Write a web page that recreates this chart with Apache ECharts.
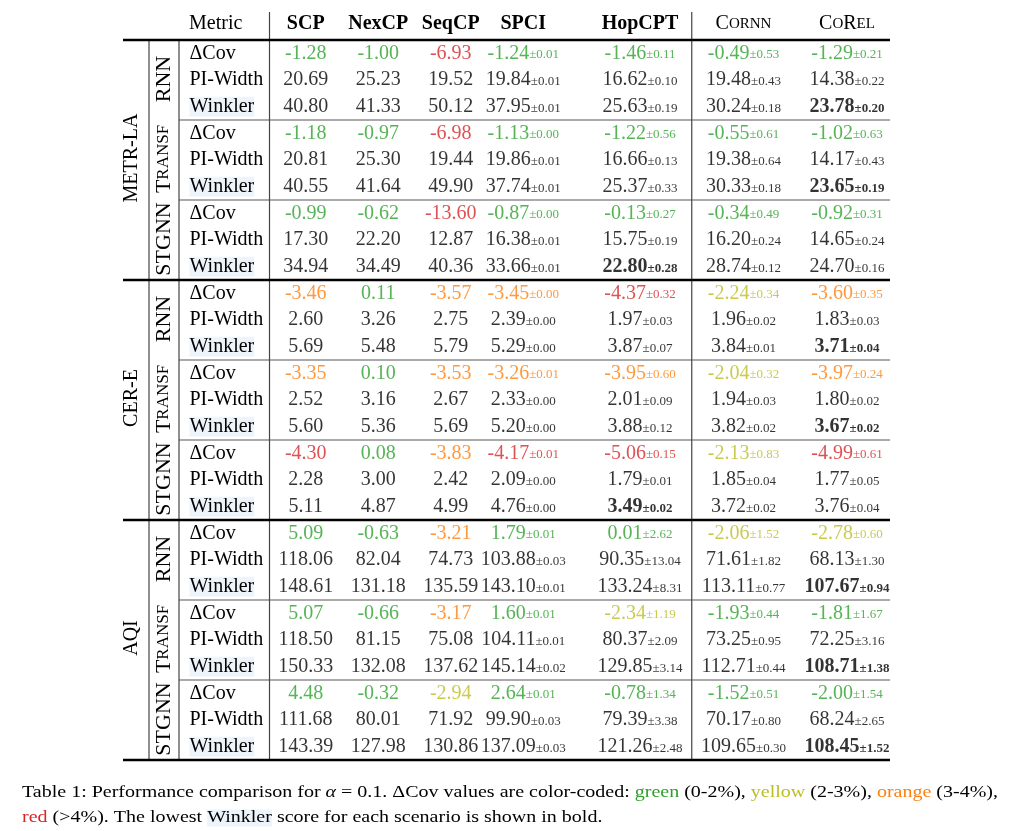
<!DOCTYPE html>
<html>
<head>
<meta charset="utf-8">
<script src="https://cdn.jsdelivr.net/npm/echarts@6/dist/echarts.min.js"></script>
<style>
html, body { margin: 0; padding: 0; background: #fff; }
#main { width: 1027px; height: 831px; }
</style>
</head>
<body>
<div id="main"></div>
<script>
// table content, rows ordered dataset -> model -> metric
var datasets = ['METR-LA', 'CER-E', 'AQI'];
var models = ['RNN', 'TRANSF', 'STGNN'];
var metrics = ['ΔCov', 'PI-Width', 'Winkler'];
var methods = ['SCP', 'NexCP', 'SeqCP', 'SPCI', 'HopCPT', 'CoRNN', 'CoREL'];

var scp = [-1.28, 20.69, 40.80, -1.18, 20.81, 40.55, -0.99, 17.30, 34.94,
           -3.46, 2.60, 5.69, -3.35, 2.52, 5.60, -4.30, 2.28, 5.11,
           5.09, 118.06, 148.61, 5.07, 118.50, 150.33, 4.48, 111.68, 143.39];
var nexcp = [-1.00, 25.23, 41.33, -0.97, 25.30, 41.64, -0.62, 22.20, 34.49,
             0.11, 3.26, 5.48, 0.10, 3.16, 5.36, 0.08, 3.00, 4.87,
             -0.63, 82.04, 131.18, -0.66, 81.15, 132.08, -0.32, 80.01, 127.98];
var seqcp = [-6.93, 19.52, 50.12, -6.98, 19.44, 49.90, -13.60, 12.87, 40.36,
             -3.57, 2.75, 5.79, -3.53, 2.67, 5.69, -3.83, 2.42, 4.99,
             -3.21, 74.73, 135.59, -3.17, 75.08, 137.62, -2.94, 71.92, 130.86];
var spci = [-1.24, 19.84, 37.95, -1.13, 19.86, 37.74, -0.87, 16.38, 33.66,
            -3.45, 2.39, 5.29, -3.26, 2.33, 5.20, -4.17, 2.09, 4.76,
            1.79, 103.88, 143.10, 1.60, 104.11, 145.14, 2.64, 99.90, 137.09];
var spciStd = [0.01, 0.01, 0.01, 0.00, 0.01, 0.01, 0.00, 0.01, 0.01,
               0.00, 0.00, 0.00, 0.01, 0.00, 0.00, 0.01, 0.00, 0.00,
               0.01, 0.03, 0.01, 0.01, 0.01, 0.02, 0.01, 0.03, 0.03];
var hopcpt = [-1.46, 16.62, 25.63, -1.22, 16.66, 25.37, -0.13, 15.75, 22.80,
              -4.37, 1.97, 3.87, -3.95, 2.01, 3.88, -5.06, 1.79, 3.49,
              0.01, 90.35, 133.24, -2.34, 80.37, 129.85, -0.78, 79.39, 121.26];
var hopcptStd = [0.11, 0.10, 0.19, 0.56, 0.13, 0.33, 0.27, 0.19, 0.28,
                 0.32, 0.03, 0.07, 0.60, 0.09, 0.12, 0.15, 0.01, 0.02,
                 2.62, 13.04, 8.31, 1.19, 2.09, 3.14, 1.34, 3.38, 2.48];
var cornn = [-0.49, 19.48, 30.24, -0.55, 19.38, 30.33, -0.34, 16.20, 28.74,
             -2.24, 1.96, 3.84, -2.04, 1.94, 3.82, -2.13, 1.85, 3.72,
             -2.06, 71.61, 113.11, -1.93, 73.25, 112.71, -1.52, 70.17, 109.65];
var cornnStd = [0.53, 0.43, 0.18, 0.61, 0.64, 0.18, 0.49, 0.24, 0.12,
                0.34, 0.02, 0.01, 0.32, 0.03, 0.02, 0.83, 0.04, 0.02,
                1.52, 1.82, 0.77, 0.44, 0.95, 0.44, 0.51, 0.80, 0.30];
var corel = [-1.29, 14.38, 23.78, -1.02, 14.17, 23.65, -0.92, 14.65, 24.70,
             -3.60, 1.83, 3.71, -3.97, 1.80, 3.67, -4.99, 1.77, 3.76,
             -2.78, 68.13, 107.67, -1.81, 72.25, 108.71, -2.00, 68.24, 108.45];
var corelStd = [0.21, 0.22, 0.20, 0.63, 0.43, 0.19, 0.31, 0.24, 0.16,
                0.35, 0.03, 0.04, 0.24, 0.02, 0.02, 0.61, 0.05, 0.04,
                0.60, 1.30, 0.94, 1.67, 3.16, 1.38, 1.54, 2.65, 1.52];

var vals = [scp, nexcp, seqcp, spci, hopcpt, cornn, corel];
var stds = [null, null, null, spciStd, hopcptStd, cornnStd, corelStd];

var FONT = 'Liberation Serif';
var COLORS = { g: '#2ca02c', y: '#bcbd22', o: '#ff7f0e', r: '#d62728', k: '#000000' };

// colour bands from the caption
function covKey(v) {
    if (v >= -2) return 'g';
    if (v >= -3) return 'y';
    if (v >= -4) return 'o';
    return 'r';
}

// lowest Winkler per scenario -> bold
var best = {};
for (var r = 2; r < 27; r += 3) {
    var lo = Infinity, bi = -1;
    for (var i = 0; i < vals.length; i++) {
        if (vals[i][r] < lo) { lo = vals[i][r]; bi = i; }
    }
    best[r] = bi;
}

var rich = {};
Object.keys(COLORS).forEach(function (k) {
    [0, 1].forEach(function (b) {
        rich[k + b + 'm'] = {
            fontFamily: FONT, fontSize: 20, fontWeight: b ? 'bold' : 'normal',
            color: COLORS[k], verticalAlign: 'bottom'
        };
        rich[k + b + 's'] = {
            fontFamily: FONT, fontSize: 13, fontWeight: b ? 'bold' : 'normal',
            color: COLORS[k], verticalAlign: 'bottom', padding: [0, 0, 2, 0]
        };
    });
});

var rowIds = [];
for (var j = 0; j < 27; j++) rowIds.push(String(j));

function makeSeries(ci, gi) {
    var data = vals[ci].map(function (v, r) {
        var k = (r % 3 === 0) ? covKey(v) : 'k';
        var b = (r % 3 === 2 && best[r] === ci) ? 1 : 0;
        var txt = '{' + k + b + 'm|' + v.toFixed(2) + '}';
        if (stds[ci]) txt += '{' + k + b + 's|±' + stds[ci][r].toFixed(2) + '}';
        return { value: [methods[ci], r], txt: txt };
    });
    return {
        type: 'scatter',
        name: methods[ci],
        xAxisIndex: gi,
        yAxisIndex: gi,
        symbolSize: 1,
        silent: true,
        itemStyle: { color: 'rgba(0,0,0,0)' },
        label: {
            show: true,
            position: 'inside',
            formatter: function (p) { return p.data.txt; },
            rich: rich
        },
        data: data
    };
}

var headRich = {
    b: { fontFamily: FONT, fontSize: 20, fontWeight: 'bold', color: '#000' },
    c: { fontFamily: FONT, fontSize: 20, color: '#000' },
    sc: { fontFamily: FONT, fontSize: 15, color: '#000' }
};
function headFmt(v) {
    if (v === 'CoRNN') return '{c|C}{sc|ORNN}';
    if (v === 'CoREL') return '{c|C}{sc|O}{c|R}{sc|EL}';
    return '{b|' + v + '}';
}

var chart = echarts.init(document.getElementById('main'));

var yAxisBase = {
    type: 'category',
    data: rowIds,
    inverse: true,
    axisLine: { show: false },
    axisTick: { show: false },
    splitLine: { show: false }
};

chart.setOption({
    animation: false,
    backgroundColor: '#fff',
    grid: [
        { left: 269.5, top: 40, width: 290, height: 720 },
        { left: 588.25, top: 40, width: 310.5, height: 720 }
    ],
    xAxis: [0, 1].map(function (gi) {
        return {
            type: 'category',
            gridIndex: gi,
            position: 'top',
            data: gi === 0 ? methods.slice(0, 4) : methods.slice(4),
            axisLine: { show: false },
            axisTick: { show: false },
            axisLabel: { margin: 6, interval: 0, formatter: headFmt, rich: headRich }
        };
    }),
    yAxis: [
        Object.assign({}, yAxisBase, {
            gridIndex: 0,
            axisLabel: {
                align: 'left',
                margin: 80,
                interval: 0,
                formatter: function (v, i) {
                    var m = metrics[i % 3];
                    return (i % 3 === 2 ? '{w|' : '{n|') + m + '}';
                },
                rich: {
                    n: { fontFamily: FONT, fontSize: 20, color: '#000' },
                    w: { fontFamily: FONT, fontSize: 20, color: '#000', backgroundColor: '#edf4fc' }
                }
            }
        }),
        Object.assign({}, yAxisBase, { gridIndex: 1, axisLabel: { show: false } })
    ],
    series: vals.map(function (a, ci) { return makeSeries(ci, ci < 4 ? 0 : 1); })
});

// rules, group labels and caption, placed from the axes
var y0 = chart.convertToPixel({ yAxisIndex: 0 }, 0);
var rowH = chart.convertToPixel({ yAxisIndex: 0 }, 1) - y0;
function yB(r) { return y0 - rowH / 2 + r * rowH; }
function yC(r) { return y0 + r * rowH; }
var xHop = chart.convertToPixel({ xAxisIndex: 1 }, 'HopCPT');
var xRn = chart.convertToPixel({ xAxisIndex: 1 }, 'CoRNN');
var xMid = (xHop + xRn) / 2;
var xL = 123, xR = 890, xDs = 149, xMd = 179, xMet = 269.5;

var g = [];
function line(x1, y1, x2, y2, w, c) {
    g.push({ type: 'line', silent: true, shape: { x1: x1, y1: y1, x2: x2, y2: y2 },
             style: { stroke: c, lineWidth: w } });
}
[3, 6, 12, 15, 21, 24].forEach(function (r) { line(xMd, yB(r), xR, yB(r), 1, '#555'); });
line(xDs, yB(0), xDs, yB(27), 1.2, '#444');
line(xMd, yB(0), xMd, yB(27), 1.2, '#444');
line(xMet, 12, xMet, yB(27), 1.2, '#444');
line(xMid, 12, xMid, yB(27), 1.2, '#444');
[0, 9, 18, 27].forEach(function (r) { line(xL, yB(r), xR, yB(r), 2.6, '#000'); });

g.push({ type: 'text', x: 189, y: 24, silent: true,
         style: { text: 'Metric', font: '20px "Liberation Serif"', fill: '#000',
                  align: 'left', verticalAlign: 'middle' } });

var modelRich = {
    a: { fontFamily: FONT, fontSize: 22, fill: '#000' },
    s: { fontFamily: FONT, fontSize: 17, fill: '#000' }
};
datasets.forEach(function (d, di) {
    g.push({ type: 'text', x: 132, y: yC(di * 9 + 4) - 2, rotation: Math.PI / 2, silent: true,
             style: { text: d, font: '20px "Liberation Serif"', fill: '#000',
                      align: 'center', verticalAlign: 'middle' } });
    models.forEach(function (m, mi) {
        var t = m === 'TRANSF' ? '{a|T}{s|RANSF}' : '{a|' + m + '}';
        g.push({ type: 'text', x: 164, y: yC(di * 9 + mi * 3 + 1) - 1, rotation: Math.PI / 2, silent: true,
                 style: { text: t, rich: modelRich, fill: '#000',
                          align: 'center', verticalAlign: 'middle' } });
    });
});

var capFont = '17px "Liberation Serif"';
var cap1 = 'Table 1: Performance comparison for {i|α} = 0.1. ΔCov values are color-coded: {g|green} (0-2%), {y|yellow} (2-3%), {o|orange} (3-4%),';
var cap1Plain = 'Table 1: Performance comparison for α = 0.1. ΔCov values are color-coded: green (0-2%), yellow (2-3%), orange (3-4%),';
var cap2 = '{r|red} (>4%). The lowest {w|Winkler} score for each scenario is shown in bold.';
var capRich = {
    i: { fontFamily: FONT, fontSize: 17, fontStyle: 'italic', fill: '#000' },
    g: { fontFamily: FONT, fontSize: 17, fill: COLORS.g },
    y: { fontFamily: FONT, fontSize: 17, fill: COLORS.y },
    o: { fontFamily: FONT, fontSize: 17, fill: COLORS.o },
    r: { fontFamily: FONT, fontSize: 17, fill: COLORS.r },
    w: { fontFamily: FONT, fontSize: 17, fill: '#000', backgroundColor: '#edf4fc' }
};
var ctx = document.createElement('canvas').getContext('2d');
ctx.font = capFont;
var sx = 976 / ctx.measureText(cap1Plain).width;
g.push({ type: 'text', x: 22, y: 793, scaleX: sx, silent: true,
         style: { text: cap1, rich: capRich, font: capFont, fill: '#000',
                  align: 'left', verticalAlign: 'middle' } });
g.push({ type: 'text', x: 22, y: 818, scaleX: sx, silent: true,
         style: { text: cap2, rich: capRich, font: capFont, fill: '#000',
                  align: 'left', verticalAlign: 'middle' } });

chart.setOption({ graphic: g });
</script>
</body>
</html>
